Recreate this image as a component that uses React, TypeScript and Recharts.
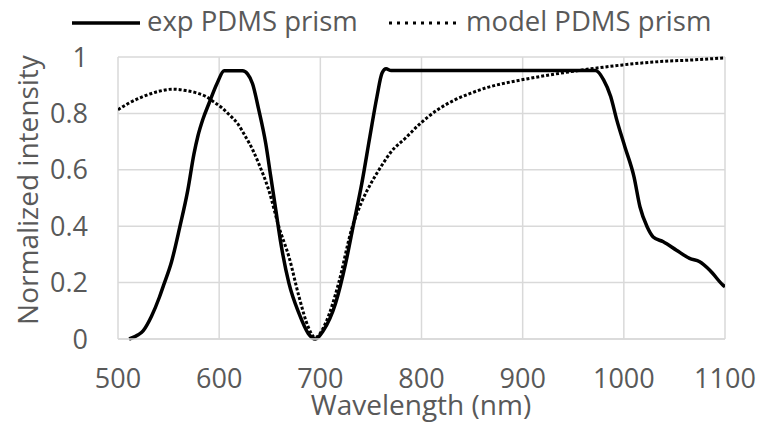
import React from 'react';
import { LineChart, Line, XAxis, YAxis, CartesianGrid, Label } from 'recharts';

// Measured spectrum (exp PDMS prism)
const expWavelength = [
  511, 520, 525, 533, 541, 545, 553, 561, 569, 575, 579, 584, 590, 598, 605, 623, 628, 633, 639,
  646, 651, 656, 661, 669, 679, 688, 695, 703, 715, 725, 733, 741, 749, 756, 761, 765, 770,
  972, 980, 987, 993, 1001, 1010, 1016, 1023, 1029, 1039, 1052, 1065, 1075, 1085, 1098, 1100,
];
const expIntensity = [
  0, 0.015, 0.03, 0.08, 0.149, 0.19, 0.275, 0.396, 0.528, 0.655, 0.72, 0.78, 0.836, 0.907, 0.951, 0.951, 0.94, 0.905, 0.815,
  0.694, 0.576, 0.457, 0.339, 0.197, 0.09, 0.02, 0, 0.03, 0.126, 0.268, 0.41, 0.552, 0.718, 0.86, 0.943, 0.958, 0.952,
  0.952, 0.919, 0.86, 0.777, 0.682, 0.576, 0.468, 0.398, 0.362, 0.345, 0.315, 0.286, 0.274, 0.244, 0.191, 0.185,
];

// Simulated spectrum (model PDMS prism)
const modelWavelength = [
  500, 510, 525, 540, 554, 567, 580, 587, 595, 603, 610, 618, 626, 633, 639, 649, 659, 669, 679, 688,
  695, 705, 718, 731, 741, 751, 761, 770, 784, 799, 816, 833, 849, 865, 882, 899, 931, 961, 999, 1036, 1070, 1100,
];
const modelIntensity = [
  0.813, 0.835, 0.86, 0.878, 0.886, 0.881, 0.87, 0.86, 0.84, 0.819, 0.795, 0.765, 0.718, 0.672, 0.623, 0.528, 0.398, 0.291, 0.149, 0.043,
  0.005, 0.055, 0.197, 0.39, 0.487, 0.558, 0.617, 0.664, 0.712, 0.765, 0.813, 0.848, 0.872, 0.892, 0.907, 0.919, 0.939, 0.955, 0.972, 0.984, 0.99, 0.997,
];

const xTicks = [500, 600, 700, 800, 900, 1000, 1100];
const yTicks = [0, 0.2, 0.4, 0.6, 0.8, 1];

const expData = expWavelength.map((x, i) => ({ x, y: expIntensity[i] }));
const modelData = modelWavelength.map((x, i) => ({ x, y: modelIntensity[i] }));

const FONT = '"Open Sans", sans-serif';
const GREY = '#595959';

// Legend drawn by hand so it sits like the Excel original
const ChartLegend = () => (
  <div style={{ position: 'absolute', left: 0, top: 0, width: 761, height: 48, fontFamily: FONT, fontSize: 27.5, color: GREY }}>
    <svg width={761} height={48} style={{ position: 'absolute', left: 0, top: 0 }}>
      <line x1={72} y1={23} x2={140} y2={23} stroke="#000" strokeWidth={3.5} />
      <line x1={389} y1={23} x2={456} y2={23} stroke="#000" strokeWidth={3} strokeDasharray="3 5" />
    </svg>
    <span style={{ position: 'absolute', left: 147, top: 2, whiteSpace: 'nowrap' }}>exp PDMS prism</span>
    <span style={{ position: 'absolute', left: 466, top: 2, whiteSpace: 'nowrap' }}>model PDMS prism</span>
  </div>
);

const XTitle = () => (
  <text x={421} y={415} textAnchor="middle" fill={GREY} fontSize={28} fontFamily={FONT}>
    Wavelength (nm)
  </text>
);

const YTitle = () => (
  <text x={38} y={190} transform="rotate(-90, 38, 190)" textAnchor="middle" fill={GREY} fontSize={28} fontFamily={FONT}>
    Normalized intensity
  </text>
);

export default function App() {
  return (
    <div style={{ position: 'absolute', left: 0, top: 0, width: 761, height: 422, background: '#fff', overflow: 'hidden' }}>
      <LineChart width={761} height={422} margin={{ top: 57, right: 36, bottom: 0, left: 0 }}>
        <CartesianGrid stroke="#d9d9d9" strokeWidth={1.5} />
        <XAxis
          type="number"
          dataKey="x"
          domain={[500, 1100]}
          ticks={xTicks}
          allowDataOverflow
          height={83}
          tickSize={0}
          tickMargin={30}
          stroke="#d9d9d9"
          strokeWidth={1.5}
          tick={{ fill: GREY, fontSize: 27, fontFamily: FONT }}
        >
          <Label content={<XTitle />} />
        </XAxis>
        <YAxis
          type="number"
          domain={[0, 1]}
          ticks={yTicks}
          width={118}
          tickSize={0}
          tickMargin={30}
          axisLine={false}
          tick={{ fill: GREY, fontSize: 27, fontFamily: FONT }}
        >
          <Label content={<YTitle />} />
        </YAxis>
        <Line
          data={modelData}
          dataKey="y"
          type="monotone"
          stroke="#000"
          strokeWidth={3}
          strokeDasharray="3 2"
          dot={false}
          isAnimationActive={false}
        />
        <Line
          data={expData}
          dataKey="y"
          type="monotone"
          stroke="#000"
          strokeWidth={3.5}
          dot={false}
          isAnimationActive={false}
        />
      </LineChart>
      <ChartLegend />
    </div>
  );
}
